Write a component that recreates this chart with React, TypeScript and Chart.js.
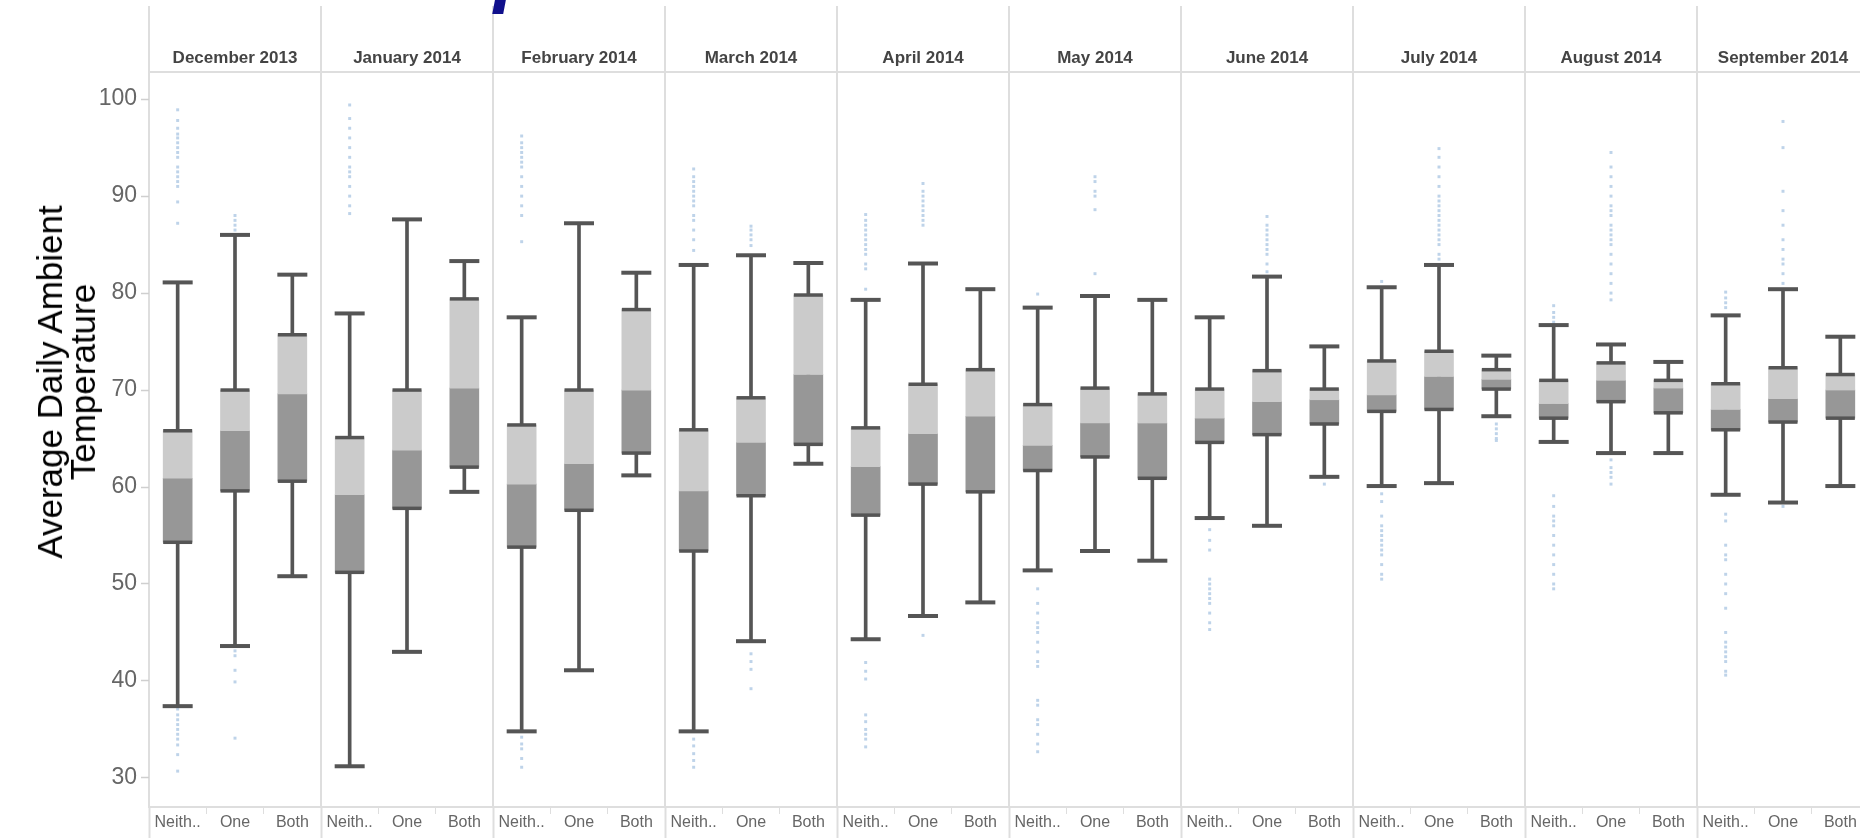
import React, { useEffect, useRef } from 'react';
import { Chart, registerables } from 'chart.js';

Chart.register(...registerables);

// ---------- data ----------
const months = [
  'December 2013', 'January 2014', 'February 2014', 'March 2014', 'April 2014',
  'May 2014', 'June 2014', 'July 2014', 'August 2014', 'September 2014',
];
const groups = ['Neith..', 'One', 'Both'];
const categoryLabels = months.flatMap(() => groups);

// order: for each month -> Neith.., One, Both
const whiskerLow = [
  37.4, 43.6, 50.8,
  31.2, 43.0, 59.5,
  34.8, 41.1, 61.2,
  34.8, 44.1, 62.4,
  44.3, 46.7, 48.1,
  51.4, 53.4, 52.4,
  56.8, 56.0, 61.05,
  60.1, 60.4, 67.3,
  64.65, 63.5, 63.5,
  59.2, 58.4, 60.1,
];
const q1 = [
  54.3, 59.6, 60.6,
  51.2, 57.8, 62.05,
  53.8, 57.6, 63.5,
  53.4, 59.1, 64.4,
  57.1, 60.3, 59.5,
  61.7, 63.1, 60.9,
  64.6, 65.4, 66.5,
  67.8, 68.0, 70.1,
  67.1, 68.8, 67.65,
  65.9, 66.7, 67.1,
];
const median = [
  60.9, 65.8, 69.6,
  59.2, 63.8, 70.2,
  60.3, 62.4, 70.0,
  59.6, 64.6, 71.6,
  62.1, 65.5, 67.3,
  64.3, 66.6, 66.6,
  67.1, 68.8, 69.0,
  69.5, 71.4, 71.1,
  68.6, 71.0, 70.2,
  68.0, 69.1, 70.0,
];
const q3 = [
  65.8, 70.0, 75.7,
  65.1, 70.0, 79.4,
  66.4, 70.0, 78.3,
  65.9, 69.2, 79.8,
  66.1, 70.6, 72.1,
  68.5, 70.2, 69.6,
  70.1, 72.0, 70.1,
  73.0, 74.0, 72.1,
  71.0, 72.8, 71.0,
  70.65, 72.3, 71.6,
];
const whiskerHigh = [
  81.1, 86.0, 81.9,
  77.9, 87.6, 83.3,
  77.5, 87.2, 82.1,
  82.9, 83.9, 83.1,
  79.3, 83.05, 80.4,
  78.5, 79.7, 79.3,
  77.5, 81.7, 74.5,
  80.6, 82.9, 73.55,
  76.7, 74.7, 72.9,
  77.7, 80.4, 75.5,
];
const outlierValues: number[][] = [
  // December 2013
  [87.2, 89.4, 91, 91.5, 92, 92.5, 93, 94, 94.5, 95, 95.5, 96, 96.4, 97, 97.8, 98.9,
    30.7, 32.4, 33.4, 34, 34.5, 35, 35.5, 36, 36.5, 37.1],
  [86.5, 87, 87.5, 88, 43.1, 42.6, 41.1, 39.9, 34.1],
  [],
  // January 2014
  [88.2, 89, 90, 91, 92, 92.5, 93, 94, 95, 96, 97, 98, 99.4],
  [],
  [],
  // February 2014
  [85.3, 88, 89, 90, 91, 92, 93, 93.5, 94, 94.5, 95, 95.5, 96.2, 31.1, 32, 33, 33.5, 34.2],
  [],
  [],
  // March 2014
  [84.4, 85.5, 86.5, 87.5, 88, 89, 89.5, 90, 90.5, 91, 91.5, 92, 92.8, 31.1, 31.8, 32.5, 33.3, 34],
  [84.9, 85.5, 86, 86.5, 86.9, 42.8, 42, 41.2, 39.2],
  [],
  // April 2014
  [80.4, 82.5, 83, 84, 84.5, 85, 85.5, 86, 86.5, 87, 87.5, 88.1,
    41.9, 41, 40.2, 36.5, 35.8, 35, 34.5, 34, 33.2],
  [87.0, 87.5, 88, 88.5, 89, 89.5, 90, 90.5, 91.3, 44.7],
  [],
  // May 2014
  [79.9, 49.5, 48, 47, 46, 45.5, 45, 44, 43, 42, 41.5, 38, 37.5, 36, 35.5, 34.5, 33.5, 32.7],
  [82.0, 88.6, 90, 90.5, 91.5, 92.0],
  [],
  // June 2014
  [55.6, 54.5, 53.5, 50.5, 50, 49.5, 49, 48.5, 48, 47, 46, 45.3],
  [82.2, 83, 84, 84.5, 85, 85.5, 86, 86.5, 87, 87.9],
  [60.3],
  // July 2014
  [81.2, 59.3, 58.5, 57, 56, 55.5, 55, 54.5, 54, 53.5, 53, 52, 51, 50.5],
  [83.5, 84, 85, 85.5, 86, 86.5, 87, 87.5, 88, 88.5, 89, 89.5, 90, 91, 92, 93, 94, 94.9],
  [66.5, 66, 65.5, 65, 64.8],
  // August 2014
  [77, 77.5, 78, 78.7, 59.1, 58, 57, 56.5, 56, 55, 54, 53, 52, 51, 50, 49.5],
  [79.3, 80, 81, 82, 83, 84, 85, 85.5, 86, 86.5, 87, 88, 88.5, 89, 90, 91, 92, 93, 94.5,
    62.8, 62, 61.5, 61, 60.3],
  [],
  // September 2014
  [78.5, 79, 79.5, 80.1, 57.2, 56.5, 54, 53, 52.5, 51, 50, 49, 47.5, 45, 44, 43.5, 43, 42.5, 42, 41, 40.6],
  [81.0, 82, 83, 83.5, 84.5, 85.5, 87, 88.5, 90.5, 95, 97.7, 58],
  [],
];
const yTickValues = [30, 40, 50, 60, 70, 80, 90, 100];
const yMin = 27.0;
const yMax = 102.8;

const FONT = '"Liberation Sans", Arial, sans-serif';
const SEP = '#dedede';
const DARK = '#555555';

export default function App() {
  const canvasRef = useRef<HTMLCanvasElement | null>(null);

  useEffect(() => {
    if (!canvasRef.current) return;
    const maxOutliers = Math.max(...outlierValues.map((v) => v.length));
    const outlierDatasets = Array.from({ length: maxOutliers }, (_, k) => ({
      type: 'line',
      label: 'outliers ' + k,
      data: outlierValues.map((v) => (k < v.length ? v[k] : null)),
      showLine: false,
      pointStyle: 'rect',
      pointRadius: 2.1,
      pointHoverRadius: 2.1,
      pointBackgroundColor: '#bed3e9',
      pointBorderWidth: 0,
      order: 5,
    }));
    const chart = new Chart(canvasRef.current, {
      type: 'bar',
      data: {
        labels: categoryLabels,
        datasets: [
          {
            type: 'line', label: 'high cap', data: whiskerHigh, showLine: false,
            pointStyle: 'line', pointRadius: 15, pointBorderWidth: 4, pointBorderColor: DARK,
            pointHoverRadius: 15, order: 1,
          } as any,
          {
            type: 'line', label: 'low cap', data: whiskerLow, showLine: false,
            pointStyle: 'line', pointRadius: 15, pointBorderWidth: 4, pointBorderColor: DARK,
            pointHoverRadius: 15, order: 1,
          } as any,
          {
            type: 'line', label: 'Q3', data: q3, showLine: false,
            pointStyle: 'line', pointRadius: 14.5, pointBorderWidth: 3.5, pointBorderColor: DARK,
            pointHoverRadius: 14.5, order: 2,
          } as any,
          {
            type: 'line', label: 'Q1', data: q1, showLine: false,
            pointStyle: 'line', pointRadius: 14.5, pointBorderWidth: 3.5, pointBorderColor: DARK,
            pointHoverRadius: 14.5, order: 2,
          } as any,
          {
            type: 'bar', label: 'upper box', data: median.map((m, i) => [m, q3[i]]),
            backgroundColor: '#cbcbcb', barThickness: 29, grouped: false, order: 3,
          } as any,
          {
            type: 'bar', label: 'lower box', data: q1.map((q, i) => [q, median[i]]),
            backgroundColor: '#979797', barThickness: 29, grouped: false, order: 3,
          } as any,
          {
            type: 'bar', label: 'whisker', data: whiskerLow.map((l, i) => [l, whiskerHigh[i]]),
            backgroundColor: DARK, barThickness: 3, grouped: false, order: 4,
          } as any,
          ...(outlierDatasets as any[]),
        ],
      },
      options: {
        animation: false,
        responsive: true,
        maintainAspectRatio: false,
        devicePixelRatio: 1,
        events: [],
        layout: { padding: 0, autoPadding: false },
        plugins: { legend: { display: false }, tooltip: { enabled: false } },
        scales: {
          x: {
            type: 'category',
            position: 'bottom',
            offset: true,
            grid: {
              offset: true,
              drawOnChartArea: false,
              drawTicks: true,
              tickLength: 31,
              color: SEP,
              tickColor: SEP,
              tickWidth: (ctx: any) => (ctx.index % 3 === 0 ? 2 : 1),
              tickBorderDash: (ctx: any) => (ctx.index % 3 === 0 ? [] : [6, 60]),
            },
            border: { display: true, color: SEP, width: 2 },
            ticks: {
              font: { family: FONT, size: 16 },
              color: '#666666',
              padding: -24.6,
              autoSkip: false,
              maxRotation: 0,
              minRotation: 0,
            },
            afterFit: (s: any) => { s.height = 31; },
          },
          x2: {
            type: 'category',
            labels: months,
            position: 'top',
            offset: true,
            grid: {
              offset: true,
              drawOnChartArea: true,
              drawTicks: true,
              tickLength: 66,
              color: SEP,
              lineWidth: 2,
              tickColor: SEP,
              tickWidth: 2,
            },
            border: { display: true, color: SEP, width: 2 },
            ticks: {
              font: { family: FONT, size: 17, weight: 'bold' },
              color: '#444444',
              padding: -62.4,
              autoSkip: false,
              maxRotation: 0,
              minRotation: 0,
            },
            afterFit: (s: any) => { s.height = 72; },
          },
          y: {
            type: 'linear',
            min: yMin,
            max: yMax,
            afterBuildTicks: (s: any) => { s.ticks = yTickValues.map((v) => ({ value: v })); },
            grid: {
              drawOnChartArea: false,
              drawTicks: true,
              tickLength: 8,
              tickColor: '#cfcfcf',
              tickWidth: 1.5,
            },
            border: { display: false },
            ticks: {
              font: { family: FONT, size: 23 },
              color: '#666666',
              padding: 4,
            },
            afterFit: (s: any) => { s.width = 149; },
          },
        },
      } as any,
    });
    return () => chart.destroy();
  }, []);

  return (
    <div
      style={{
        position: 'fixed', left: 0, top: 0, width: 1860, height: 838,
        overflow: 'hidden', background: '#ffffff',
      }}
    >
      <div style={{ position: 'absolute', left: 0, top: 0, width: 1869, height: 838 }}>
        <canvas ref={canvasRef} />
      </div>
      <div
        style={{
          position: 'absolute', left: 66, top: 382,
          transform: 'translate(-50%, -50%) rotate(-90deg)',
          fontFamily: FONT, fontSize: 35, lineHeight: '33px', color: '#000000',
          whiteSpace: 'nowrap', textAlign: 'center',
        }}
      >
        Average Daily Ambient
        <br />
        Temperature
      </div>
      <div
        style={{
          position: 'absolute', left: 494, top: -70,
          fontFamily: FONT, fontSize: 80, lineHeight: '80px', fontWeight: 'bold',
          fontStyle: 'italic', color: '#10108c', whiteSpace: 'nowrap',
        }}
      >
        p
      </div>
    </div>
  );
}
